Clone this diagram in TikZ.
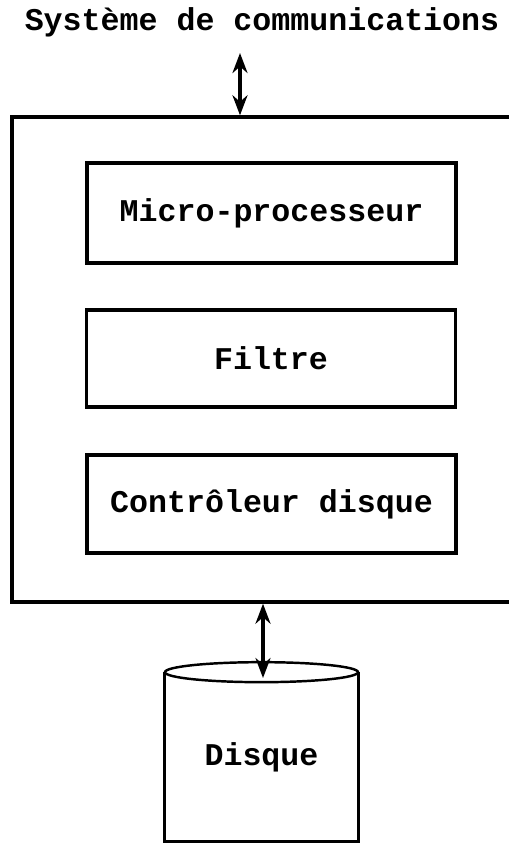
\documentclass[tikz,border=0pt]{standalone}
\usepackage{fontspec}
\setmonofont{Liberation Mono}
\usetikzlibrary{positioning,arrows.meta}
\tikzset{
  bloc/.style={draw, line width=2pt, minimum width=7.38cm, inner sep=0pt},
  texte/.style={font=\fontsize{18}{20}\selectfont\ttfamily\bfseries},
  lien/.style={{Stealth[length=4mm,width=3mm]}-{Stealth[length=4mm,width=3mm]}, line width=2pt}
}
\begin{document}
\begin{tikzpicture}[x=0.02cm, y=-0.02cm]
 \useasboundingbox (0,0) rectangle (509,843);
 \node [texte] (titre) at (262,22) {Système de communications};
 % carte : le bord droit sort de l'image
 \node [draw, line width=2pt, minimum width=10.08cm, minimum height=9.7cm] (carte) at (264,359.5) {};
 \node [bloc, texte, minimum height=2cm] (micro) at (271.5,213) {Micro-processeur};
 \node [bloc, texte, minimum height=1.94cm] (filtre) at (271,358.5) {Filtre};
 \node [bloc, texte, minimum height=1.96cm] (ctrl) at (271.5,504) {Contrôleur disque};

 % disque
 \node [texte, minimum width=3.86cm, minimum height=3.38cm] (disque) at (261.5,757) {Disque};
 \draw [line width=2pt] (disque.north west) -- (disque.south west) -- (disque.south east) -- (disque.north east);
 \draw [line width=1.4pt] (disque.north) ellipse [x radius=96.5, y radius=10];

 \coordinate (haut) at (240,53);
 \draw [lien] (haut) -- (haut |- carte.north);
 \coordinate (bas) at (263,678);
 \draw [lien] (bas |- carte.south) -- (bas);
\end{tikzpicture}
\end{document}
